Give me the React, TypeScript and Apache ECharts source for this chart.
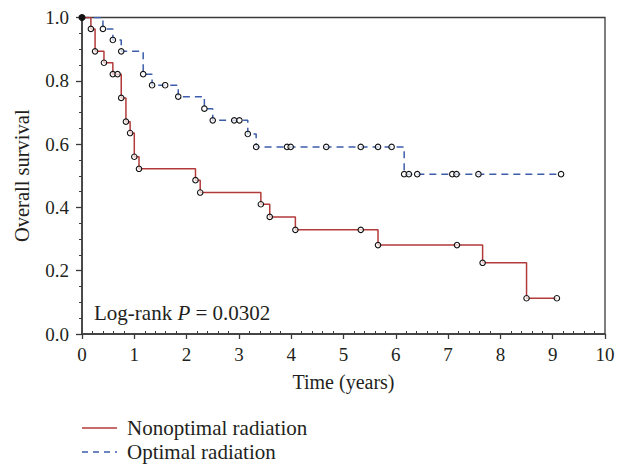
import React, { useEffect, useRef } from "react";
import * as echarts from "echarts";

const nonoptimalTime = [0, 0.17, 0.25, 0.42, 0.59, 0.68, 0.75, 0.84, 0.92, 1.0, 1.09, 2.17, 2.26, 3.42, 3.59, 4.08, 5.33, 5.66, 7.17, 7.66, 8.5, 9.08];
const nonoptimalSurv = [1, 0.964, 0.893, 0.857, 0.821, 0.821, 0.746, 0.671, 0.635, 0.56, 0.522, 0.486, 0.447, 0.41, 0.37, 0.329, 0.329, 0.281, 0.281, 0.225, 0.113, 0.113];

const optimalTime = [0, 0.4, 0.59, 0.75, 1.17, 1.34, 1.59, 1.84, 2.34, 2.5, 2.91, 3.01, 3.17, 3.33, 3.92, 3.99, 4.67, 5.33, 5.66, 5.92, 6.16, 6.25, 6.41, 7.08, 7.16, 7.58, 9.16];
const optimalSurv = [1, 0.964, 0.929, 0.893, 0.821, 0.786, 0.786, 0.75, 0.712, 0.675, 0.675, 0.675, 0.632, 0.591, 0.591, 0.591, 0.591, 0.591, 0.591, 0.591, 0.505, 0.505, 0.505, 0.505, 0.505, 0.505, 0.505];

const xTicks = ["0", "1", "2", "3", "4", "5", "6", "7", "8", "9", "10"];
const seriesNames = ["Nonoptimal radiation", "Optimal radiation"];
const pValueText = "0.0302";

const FONT = "Liberation Serif";
const RED = "#b23a3a";
const BLUE = "#3d5cab";
const AXIS = "#3a3a3a";
const TXT = "#231f20";

export default function App() {
  const ref = useRef<HTMLDivElement>(null);
  useEffect(() => {
    document.body.style.margin = "0";
    const chart = echarts.init(ref.current!, null, { renderer: "svg" });
    const markerStyle = { color: "rgba(255,255,255,0.7)", borderColor: "#111", borderWidth: 1.1 };
    const redData = nonoptimalTime.map((t, i) =>
      i === 0
        ? { value: [t, nonoptimalSurv[i]], itemStyle: { color: "#111", borderColor: "#111" }, symbolSize: 6 }
        : { value: [t, nonoptimalSurv[i]] }
    );
    const blueData = optimalTime.map((t, i) =>
      i === 0 ? { value: [t, optimalSurv[i]], symbol: "none" } : { value: [t, optimalSurv[i]] }
    );
    const gridLeft = 82, gridRight = 605, gridTop = 17.5, gridBottom = 334;
    chart.setOption({
      animation: false,
      textStyle: { fontFamily: FONT },
      grid: {
        left: gridLeft,
        top: gridTop,
        right: 627 - gridRight,
        bottom: 468 - gridBottom,
        show: true,
        borderColor: AXIS,
        borderWidth: 1.3,
      },
      xAxis: [
        {
          type: "value",
          min: 0,
          max: 10,
          interval: 1,
          name: "Time (years)",
          nameLocation: "middle",
          nameGap: 38,
          nameTextStyle: { fontFamily: FONT, fontSize: 20, color: TXT },
          axisLine: { show: true, lineStyle: { color: AXIS, width: 1.5 } },
          axisTick: { show: true, length: 5, lineStyle: { color: AXIS, width: 1.3 } },
          minorTick: { show: false },
          axisLabel: {
            fontFamily: FONT,
            fontSize: 19,
            color: TXT,
            margin: 11,
            formatter: (v: number) => xTicks[Math.round(v)] ?? "",
          },
          splitLine: { show: false },
        },
        {
          type: "value",
          min: 0,
          max: 10,
          interval: 1,
          position: "bottom",
          axisLine: { show: false },
          axisTick: { show: false, inside: true },
          minorTick: { show: true, splitNumber: 5, length: 3, lineStyle: { color: AXIS, width: 1 } },
          axisLabel: { show: false },
          splitLine: { show: false },
        },
      ],
      yAxis: {
        type: "value",
        min: 0,
        max: 1,
        interval: 0.2,
        name: "Overall survival",
        nameLocation: "middle",
        nameGap: 50,
        nameTextStyle: { fontFamily: FONT, fontSize: 20.5, color: TXT },
        axisLine: { show: true, lineStyle: { color: AXIS, width: 1.5 } },
        axisTick: { show: true, length: 6, lineStyle: { color: AXIS, width: 1.3 } },
        minorTick: { show: true, splitNumber: 4, length: 3, lineStyle: { color: AXIS, width: 1 } },
        axisLabel: {
          fontFamily: FONT,
          fontSize: 19,
          color: TXT,
          margin: 13,
          formatter: (v: number) => v.toFixed(1),
        },
        splitLine: { show: false },
      },
      series: [
        {
          name: seriesNames[0],
          type: "line",
          step: "end",
          data: redData,
          symbol: "circle",
          symbolSize: 5.5,
          showAllSymbol: true,
          lineStyle: { color: RED, width: 1.5 },
          itemStyle: markerStyle,
          z: 3,
        },
        {
          name: seriesNames[1],
          type: "line",
          step: "end",
          data: blueData,
          symbol: "circle",
          symbolSize: 5.5,
          showAllSymbol: true,
          lineStyle: { color: BLUE, width: 1.5, type: [7, 5] },
          itemStyle: markerStyle,
          z: 2,
        },
      ],
      graphic: [
        {
          type: "text",
          x: 94,
          y: 313,
          style: {
            text: "{n|Log-rank }{i|P}{n| = " + pValueText + "}",
            verticalAlign: "middle",
            rich: {
              n: { fontFamily: FONT, fontSize: 21, fill: TXT },
              i: { fontFamily: FONT, fontSize: 21, fontStyle: "italic", fill: TXT },
            },
          },
        },
        {
          type: "line",
          shape: { x1: 82, y1: 428, x2: 117, y2: 428 },
          style: { stroke: RED, lineWidth: 1.5 },
        },
        {
          type: "text",
          x: 127,
          y: 428,
          style: { text: seriesNames[0], fontFamily: FONT, fontSize: 21, fill: TXT, verticalAlign: "middle" },
        },
        {
          type: "line",
          shape: { x1: 82, y1: 452, x2: 117, y2: 452 },
          style: { stroke: BLUE, lineWidth: 1.5, lineDash: [6, 5] },
        },
        {
          type: "text",
          x: 127,
          y: 452,
          style: { text: seriesNames[1], fontFamily: FONT, fontSize: 21, fill: TXT, verticalAlign: "middle" },
        },
      ],
    });
    return () => chart.dispose();
  }, []);
  return <div ref={ref} style={{ width: 627, height: 468 }} />;
}
